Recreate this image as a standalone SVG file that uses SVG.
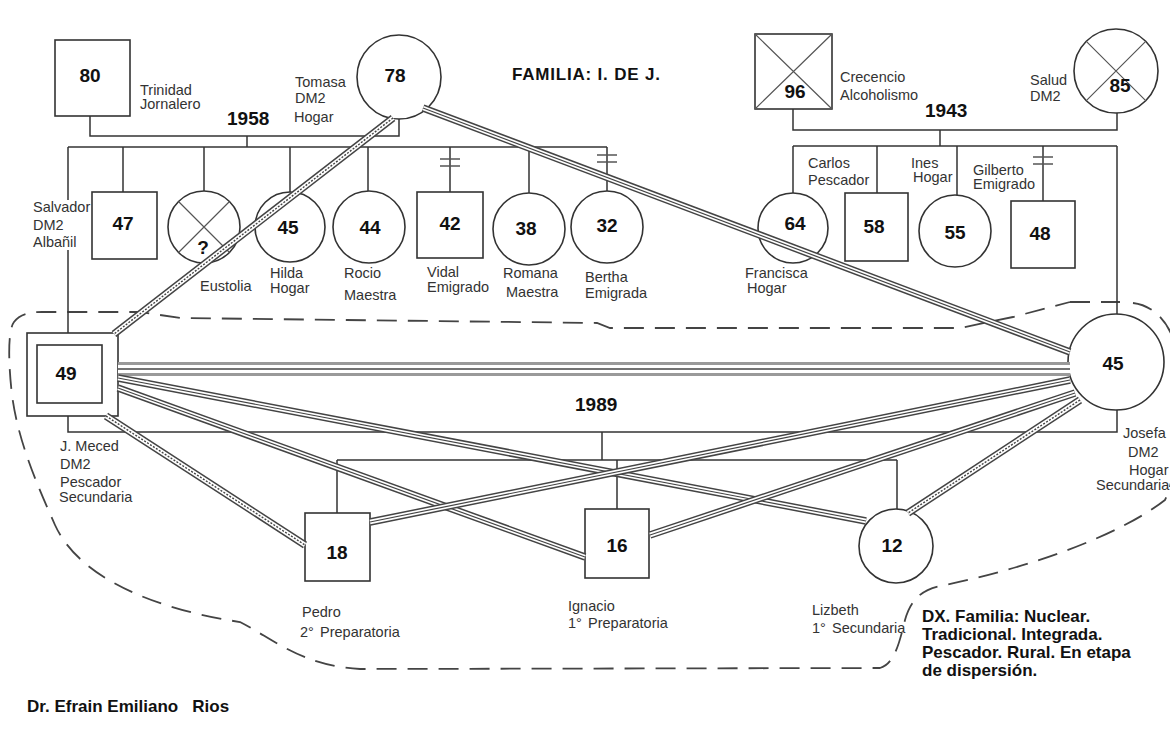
<svg xmlns="http://www.w3.org/2000/svg" width="1170" height="742" viewBox="0 0 1170 742">
<style>
.bg{fill:#fff}
.n{fill:#fff;stroke:#333;stroke-width:1.6}
.num{font-family:"Liberation Sans",Arial,sans-serif;font-weight:bold;font-size:19px;fill:#111;text-anchor:middle}
.lbl{font-family:"Liberation Sans",Arial,sans-serif;font-size:14.5px;fill:#333}
.yr{font-family:"Liberation Sans",Arial,sans-serif;font-weight:bold;font-size:19px;fill:#111}
.ttl{font-family:"Liberation Sans",Arial,sans-serif;font-weight:bold;font-size:17px;fill:#111;letter-spacing:0.8px}
.dx{font-family:"Liberation Sans",Arial,sans-serif;font-weight:bold;font-size:17px;fill:#111}
.sig{font-family:"Liberation Sans",Arial,sans-serif;font-weight:bold;font-size:17px;fill:#111}
.rel{fill:none;stroke:#333;stroke-width:1.5}
.x{fill:none;stroke:#555;stroke-width:1.2}
.hash{fill:none;stroke:#555;stroke-width:1.5}
.to{fill:none;stroke:#444;stroke-width:7.5}
.ti{fill:none;stroke:#fff;stroke-width:4.5}
.tm{fill:none;stroke:#444;stroke-width:1.2}
.tmh{fill:none;stroke:#444;stroke-width:1.4;stroke-dasharray:2 1.5}
.bo{fill:none;stroke:#9a9a9a;stroke-width:14}
.bi{fill:none;stroke:#fff;stroke-width:8}
.bm{fill:none;stroke:#444;stroke-width:1.3}
.dash{fill:none;stroke:#444;stroke-width:1.8;stroke-dasharray:20 11}
</style>
<defs>
<path id="c1" d="M393,118 L114,334"/>
<path id="c2" d="M423,108 L1070,352"/>
<path id="c4" d="M118,378 L866,521"/>
<path id="c5" d="M118,388 L585,557"/>
<path id="c6" d="M106,416 L305,545"/>
<path id="c7" d="M1070,380 L370,522"/>
<path id="c8" d="M1075,393 L650,535"/>
<path id="c9" d="M1080,400 L908,513"/>
<path id="c3" d="M118,369 L1070,369"/>
</defs>
<rect class="bg" x="0" y="0" width="1170" height="742"/>

<g id="household">
<path class="dash" d="M1070,302 L1120,302 M1133,303 C1150,305 1168,318 1175,345 C1182,380 1180,470 1165,500 C1120,535 1030,568 940,586 C920,590 910,602 905,620 C900,640 895,664 880,668 L360,669 C300,665 275,640 240,622 C160,610 80,580 55,525 C35,480 18,440 12,395 C8,360 8,330 14,322 C20,314 30,312 42,312 L140,312 L180,318 L597,323 L610,328 L960,328 L1013,317 L1070,302"/>
</g>

<g id="connectors">
<path class="rel" d="M90,116 V136 H399 V119"/>
<path class="rel" d="M247,136 V147"/>
<path class="rel" d="M68,147 H607"/>
<path class="rel" d="M68,147 V200 M68,250 V333"/>
<path class="rel" d="M123,147 V192 M204,147 V191 M290,147 V192 M368,147 V191 M450,147 V192 M529,147 V193 M607,147 V191"/>
<path class="hash" d="M440,159 H460 M440,166 H460 M597,155 H617 M597,162 H617"/>
<path class="rel" d="M793,109 V130 H1117 V113"/>
<path class="rel" d="M940,130 V146"/>
<path class="rel" d="M793,146 H1117"/>
<path class="rel" d="M793,146 V193 M877,146 V193 M957,146 V195 M1043,146 V201 M1117,146 V314"/>
<path class="hash" d="M1033,157 H1053 M1033,164 H1053"/>
<path class="rel" d="M68,416 V432 H1117 V410"/>
<path class="rel" d="M602,432 V460"/>
<path class="rel" d="M337,460 H897"/>
<path class="rel" d="M337,460 V513 M617,460 V509 M897,460 V509"/>
</g>

<g id="n-trinidad"><rect class="n" x="55" y="40" width="75" height="76"/><text class="num" x="90" y="82">80</text><text class="lbl" x="140" y="95">Trinidad</text><text class="lbl" x="140" y="109">Jornalero</text></g>
<g id="n-tomasa"><circle class="n" cx="399" cy="77" r="42"/><text class="num" x="395" y="82">78</text><text class="lbl" x="295" y="87">Tomasa</text><text class="lbl" x="295" y="103">DM2</text><text class="lbl" x="294" y="122">Hogar</text></g>
<g id="n-crecencio"><rect class="n" x="755" y="34" width="77" height="75"/><path class="x" d="M755,34 L832,109 M832,34 L755,109"/><text class="num" x="795" y="98">96</text><text class="lbl" x="840" y="82">Crecencio</text><text class="lbl" x="840" y="100">Alcoholismo</text></g>
<g id="n-salud"><circle class="n" cx="1116" cy="71" r="42"/><path class="x" d="M1086.3,41.3 L1145.7,100.7 M1145.7,41.3 L1086.3,100.7"/><text class="num" x="1120" y="92">85</text><text class="lbl" x="1030" y="85">Salud</text><text class="lbl" x="1030" y="101">DM2</text></g>

<g id="lbl-salvador"><text class="lbl" x="33" y="212">Salvador</text><text class="lbl" x="33" y="230">DM2</text><text class="lbl" x="33" y="247">Albañil</text></g>
<g id="n-47"><rect class="n" x="92" y="192" width="65" height="67"/><text class="num" x="123" y="230">47</text></g>
<g id="n-eustolia"><circle class="n" cx="204" cy="227" r="36"/><path class="x" d="M178.5,201.5 L229.5,252.5 M229.5,201.5 L178.5,252.5"/><text class="num" x="203" y="254">?</text><text class="lbl" x="200" y="291">Eustolia</text></g>
<g id="n-hilda"><circle class="n" cx="290" cy="227" r="35"/><text class="num" x="288" y="234">45</text><text class="lbl" x="270" y="278">Hilda</text><text class="lbl" x="270" y="293">Hogar</text></g>
<g id="n-rocio"><circle class="n" cx="369" cy="227" r="36"/><text class="num" x="370" y="234">44</text><text class="lbl" x="344" y="278">Rocio</text><text class="lbl" x="344" y="300">Maestra</text></g>
<g id="n-vidal"><rect class="n" x="417" y="192" width="66" height="66"/><text class="num" x="450" y="230">42</text><text class="lbl" x="427" y="277">Vidal</text><text class="lbl" x="427" y="292">Emigrado</text></g>
<g id="n-romana"><circle class="n" cx="529" cy="229" r="36"/><text class="num" x="526" y="235">38</text><text class="lbl" x="503" y="278">Romana</text><text class="lbl" x="506" y="297">Maestra</text></g>
<g id="n-bertha"><circle class="n" cx="607" cy="227" r="36"/><text class="num" x="607" y="232">32</text><text class="lbl" x="585" y="282">Bertha</text><text class="lbl" x="585" y="298">Emigrada</text></g>
<g id="n-francisca"><circle class="n" cx="793" cy="228" r="35"/><text class="num" x="795" y="230">64</text><text class="lbl" x="745" y="278">Francisca</text><text class="lbl" x="747" y="293">Hogar</text></g>
<g id="n-carlos"><rect class="n" x="845" y="193" width="63" height="68"/><text class="num" x="874" y="233">58</text><text class="lbl" x="808" y="168">Carlos</text><text class="lbl" x="808" y="185">Pescador</text></g>
<g id="n-ines"><circle class="n" cx="955" cy="231" r="36"/><text class="num" x="955" y="239">55</text><text class="lbl" x="911" y="168">Ines</text><text class="lbl" x="913" y="182">Hogar</text></g>
<g id="n-gilberto"><rect class="n" x="1011" y="201" width="64" height="67"/><text class="num" x="1040" y="240">48</text><text class="lbl" x="973" y="175">Gilberto</text><text class="lbl" x="973" y="189">Emigrado</text></g>

<g id="n-meced"><rect class="n" x="27" y="333" width="91" height="83"/><rect class="n" x="37" y="345" width="65" height="58"/><text class="num" x="66" y="380">49</text><text class="lbl" x="60" y="451">J. Meced</text><text class="lbl" x="60" y="469">DM2</text><text class="lbl" x="60" y="487">Pescador</text><text class="lbl" x="59" y="502">Secundaria</text></g>
<g id="n-josefa"><circle class="n" cx="1116" cy="362" r="48"/><text class="num" x="1113" y="370">45</text><text class="lbl" x="1123" y="438">Josefa</text><text class="lbl" x="1128" y="457">DM2</text><text class="lbl" x="1129" y="475">Hogar</text><text class="lbl" x="1096" y="490">Secundaria</text></g>
<g id="n-pedro"><rect class="n" x="305" y="513" width="65" height="68"/><text class="num" x="337" y="559">18</text><text class="lbl" x="302" y="617">Pedro</text><text class="lbl" x="300" y="637">2°<tspan x="320">Preparatoria</tspan></text></g>
<g id="n-ignacio"><rect class="n" x="585" y="509" width="64" height="69"/><text class="num" x="617" y="552">16</text><text class="lbl" x="568" y="611">Ignacio</text><text class="lbl" x="568" y="628">1°<tspan x="588">Preparatoria</tspan></text></g>
<g id="n-lizbeth"><circle class="n" cx="896" cy="546" r="37"/><text class="num" x="892" y="552">12</text><text class="lbl" x="812" y="615">Lizbeth</text><text class="lbl" x="812" y="633">1°<tspan x="832">Secundaria</tspan></text></g>

<g id="relations">
<use href="#c3" class="bo"/><use href="#c3" class="bi"/><use href="#c3" class="bm"/>
<use href="#c2" class="to"/><use href="#c2" class="ti"/><use href="#c2" class="tm"/>
<use href="#c4" class="to"/><use href="#c4" class="ti"/><use href="#c4" class="tm"/>
<use href="#c5" class="to"/><use href="#c5" class="ti"/><use href="#c5" class="tm"/>
<use href="#c7" class="to"/><use href="#c7" class="ti"/><use href="#c7" class="tm"/>
<use href="#c8" class="to"/><use href="#c8" class="ti"/><use href="#c8" class="tm"/>
<use href="#c1" class="to"/><use href="#c1" class="ti"/><use href="#c1" class="tmh"/>
<use href="#c6" class="to"/><use href="#c6" class="ti"/><use href="#c6" class="tmh"/>
<use href="#c9" class="to"/><use href="#c9" class="ti"/><use href="#c9" class="tmh"/>
</g>

<g id="texts">
<text class="ttl" x="512" y="80">FAMILIA: I. DE J.</text>
<text class="yr" x="227" y="125">1958</text>
<text class="yr" x="925" y="117">1943</text>
<text class="yr" x="575" y="411">1989</text>
<text class="dx" x="922" y="622">DX. Familia: Nuclear.<tspan x="922" y="640">Tradicional. Integrada.</tspan><tspan x="922" y="658">Pescador. Rural. En etapa</tspan><tspan x="922" y="676">de dispersión.</tspan></text>
<text class="sig" x="27" y="712" xml:space="preserve">Dr. Efrain Emiliano   Rios</text>
</g>
</svg>
